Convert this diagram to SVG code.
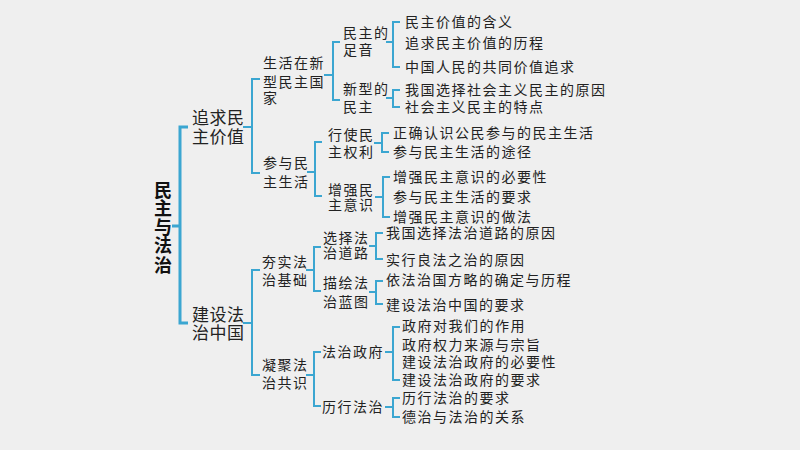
<svg xmlns="http://www.w3.org/2000/svg" width="800" height="450" viewBox="0 0 800 450">
<style>
text{font-family:"Noto Sans CJK SC","Noto Sans",sans-serif;fill:#222}
.root{font-size:18px;font-weight:bold;fill:#111;text-anchor:middle}
.l1{font-size:17px;letter-spacing:0.5px}
.l2{font-size:14px;letter-spacing:1.5px}
.it{font-size:14px;letter-spacing:1.5px}
.br{fill:none;stroke:#3ba6d1;stroke-width:2}
.main{stroke-width:3}
</style>
<rect width="800" height="450" fill="#efefef"/>
<g id="connectors">
<path class="br main" d="M172,226H180M188,127H180V323H188"/>
<path class="br" d="M243,127H252M260,79H252V173H260"/>
<path class="br" d="M243,323H252M260,270H252V375H260"/>
<path class="br" d="M324,75H333M340,42H333V100H340"/>
<path class="br" d="M307,172H315M322,142H315V196H322"/>
<path class="br" d="M306,270H314M321,247H314V291H321"/>
<path class="br" d="M306,375H314M321,352H314V406H321"/>
<path class="br" d="M386,42H393M400,22H393V67H400"/>
<path class="br" d="M386,98H393M400,90H393V107H400"/>
<path class="br" d="M374,143H382M389,133H382V152H389"/>
<path class="br" d="M375,197H383M390,177H383V217H390"/>
<path class="br" d="M369,246H376M383,233H376V259H383"/>
<path class="br" d="M369,292H376M383,281H376V304H383"/>
<path class="br" d="M385,352H393M400,327H393V380H400"/>
<path class="br" d="M385,407H393M400,398H393V417H400"/>
</g>
<g id="root"><text class="root"><tspan x="163" y="197">民</tspan><tspan x="163" y="215">主</tspan><tspan x="163" y="234">与</tspan><tspan x="163" y="252">法</tspan><tspan x="163" y="272">治</tspan></text></g>
<g id="n-zhuiqiu"><text class="l1" x="192" y="124">追求民</text><text class="l1" x="192" y="143">主价值</text></g>
<g id="n-jianshe"><text class="l1" x="192" y="321">建设法</text><text class="l1" x="192" y="339">治中国</text></g>
<g id="n-shenghuo"><text class="l2" x="263" y="68">生活在新</text><text class="l2" x="263" y="87">型民主国</text><text class="l2" x="263" y="103">家</text></g>
<g id="n-canyu"><text class="l2" x="263" y="168">参与民</text><text class="l2" x="263" y="187">主生活</text></g>
<g id="n-hangshi"><text class="l2" x="262" y="267">夯实法</text><text class="l2" x="262" y="285">治基础</text></g>
<g id="n-ningju"><text class="l2" x="262" y="370">凝聚法</text><text class="l2" x="262" y="388">治共识</text></g>
<g id="n-zuyin"><text class="l2" x="343" y="38">民主的</text><text class="l2" x="343" y="55">足音</text></g>
<g id="n-xinxing"><text class="l2" x="343" y="94">新型的</text><text class="l2" x="343" y="112">民主</text></g>
<g id="n-xingshi"><text class="l2" x="328" y="140">行使民</text><text class="l2" x="328" y="157">主权利</text></g>
<g id="n-zengqiang"><text class="l2" x="328" y="195">增强民</text><text class="l2" x="328" y="210">主意识</text></g>
<g id="n-xuanze"><text class="l2" x="323" y="243">选择法</text><text class="l2" x="323" y="258">治道路</text></g>
<g id="n-miaohui"><text class="l2" x="323" y="288">描绘法</text><text class="l2" x="323" y="307">治蓝图</text></g>
<g id="n-zhengfu"><text class="l2" x="322" y="357">法治政府</text></g>
<g id="n-lixing"><text class="l2" x="322" y="412">历行法治</text></g>
<g id="items">
<text class="it" x="405" y="27">民主价值的含义</text>
<text class="it" x="405" y="48">追求民主价值的历程</text>
<text class="it" x="405" y="72">中国人民的共同价值追求</text>
<text class="it" x="405" y="95">我国选择社会主义民主的原因</text>
<text class="it" x="405" y="112">社会主义民主的特点</text>
<text class="it" x="393" y="138">正确认识公民参与的民主生活</text>
<text class="it" x="393" y="157">参与民主生活的途径</text>
<text class="it" x="393" y="182">增强民主意识的必要性</text>
<text class="it" x="393" y="202">参与民主生活的要求</text>
<text class="it" x="393" y="222">增强民主意识的做法</text>
<text class="it" x="386" y="238">我国选择法治道路的原因</text>
<text class="it" x="386" y="265">实行良法之治的原因</text>
<text class="it" x="386" y="285">依法治国方略的确定与历程</text>
<text class="it" x="386" y="310">建设法治中国的要求</text>
<text class="it" x="402" y="331">政府对我们的作用</text>
<text class="it" x="402" y="350">政府权力来源与宗旨</text>
<text class="it" x="402" y="367">建设法治政府的必要性</text>
<text class="it" x="402" y="385">建设法治政府的要求</text>
<text class="it" x="402" y="403">历行法治的要求</text>
<text class="it" x="402" y="422">德治与法治的关系</text>
</g>
</svg>
